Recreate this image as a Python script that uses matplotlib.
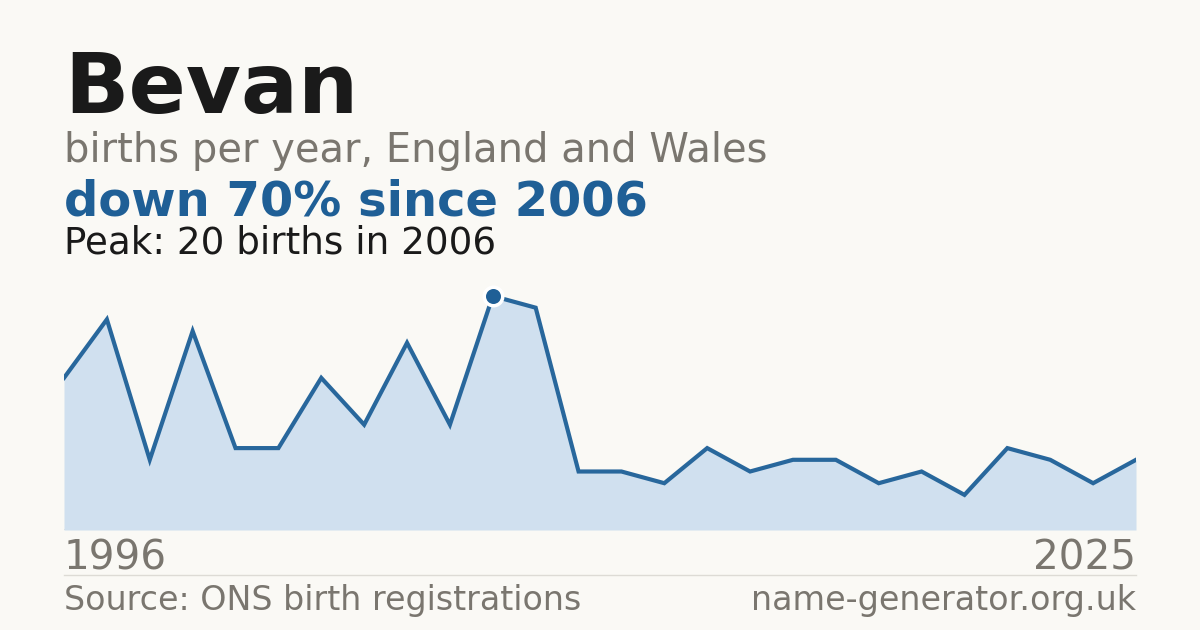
import matplotlib
matplotlib.use("Agg")
import matplotlib.pyplot as plt

# Data (index positions; first and last labelled)
first_year = "1996"
last_year = "2025"
births = [13, 18, 6, 17, 7, 7, 13, 9, 16, 9, 20, 19, 5, 5, 4, 7, 5, 6, 6, 4, 5, 3, 7, 6, 4, 6]
peak_value = 20
peak_year = "2006"

W, H = 1200, 630
DPI = 100
BG = "#faf9f5"
BLUE = "#1f5f96"
LINE = "#28679c"
FILL = "#d0e0ef"
GREY = "#7a766f"
DARK = "#1a1a1a"

fig = plt.figure(figsize=(W / DPI, H / DPI), dpi=DPI, facecolor=BG)

def px(x, y):
    return x / W, 1 - y / H

def fs(pxsize):
    return pxsize * 72 / DPI

# Axes: left 64, right 1136, bottom 530 (0), 20 at y=296
ymax = 22
top = 530 - ymax * (530 - 296) / 20
ax = fig.add_axes([64 / W, 1 - 530 / H, (1136 - 64) / W, (530 - top) / H])
ax.set_facecolor("none")
xs = list(range(len(births)))
ax.fill_between(xs, births, 0, color=FILL, lw=0, zorder=1)
ax.plot(xs, births, color=LINE, lw=3.0, solid_joinstyle="miter", zorder=2)
pk = births.index(peak_value)
ax.plot([pk], [peak_value], "o", ms=fs(22), mfc="white", mec="none", zorder=3)
ax.plot([pk], [peak_value], "o", ms=fs(15), mfc=BLUE, mec="none", zorder=4)
ax.axhline(0, color="#dddbd5", lw=1.2, zorder=0)
ax.set_xlim(0, len(births) - 1)
ax.set_ylim(0, ymax)
ax.axis("off")

fam = "DejaVu Sans"
fig.text(*px(64, 113), "Bevan", fontsize=fs(84.5), fontweight="bold", color=DARK, va="baseline", family=fam)
fig.text(*px(64, 162), "births per year, England and Wales", fontsize=fs(40), color=GREY, va="baseline", family=fam)
fig.text(*px(64, 215), "down 70% since " + peak_year, fontsize=fs(48), fontweight="bold", color=BLUE, va="baseline", family=fam)
fig.text(*px(64, 254), f"Peak: {peak_value} births in {peak_year}", fontsize=fs(37.2), color=DARK, va="baseline", family=fam)
fig.text(*px(64, 570), first_year, fontsize=fs(40.5), color=GREY, va="baseline", family=fam)
fig.text(*px(1136, 570), last_year, fontsize=fs(40.5), color=GREY, va="baseline", ha="right", family=fam)
fig.add_artist(plt.Line2D([64 / W, 1136 / W], [1 - 574.5 / H] * 2, color="#dddbd5", lw=1))
fig.text(*px(64, 610), "Source: ONS birth registrations", fontsize=fs(33.3), color=GREY, va="baseline", family=fam)
fig.text(*px(1136, 610), "name-generator.org.uk", fontsize=fs(33.4), color=GREY, va="baseline", ha="right", family=fam)

fig.savefig("out.png", dpi=DPI, facecolor=BG)
